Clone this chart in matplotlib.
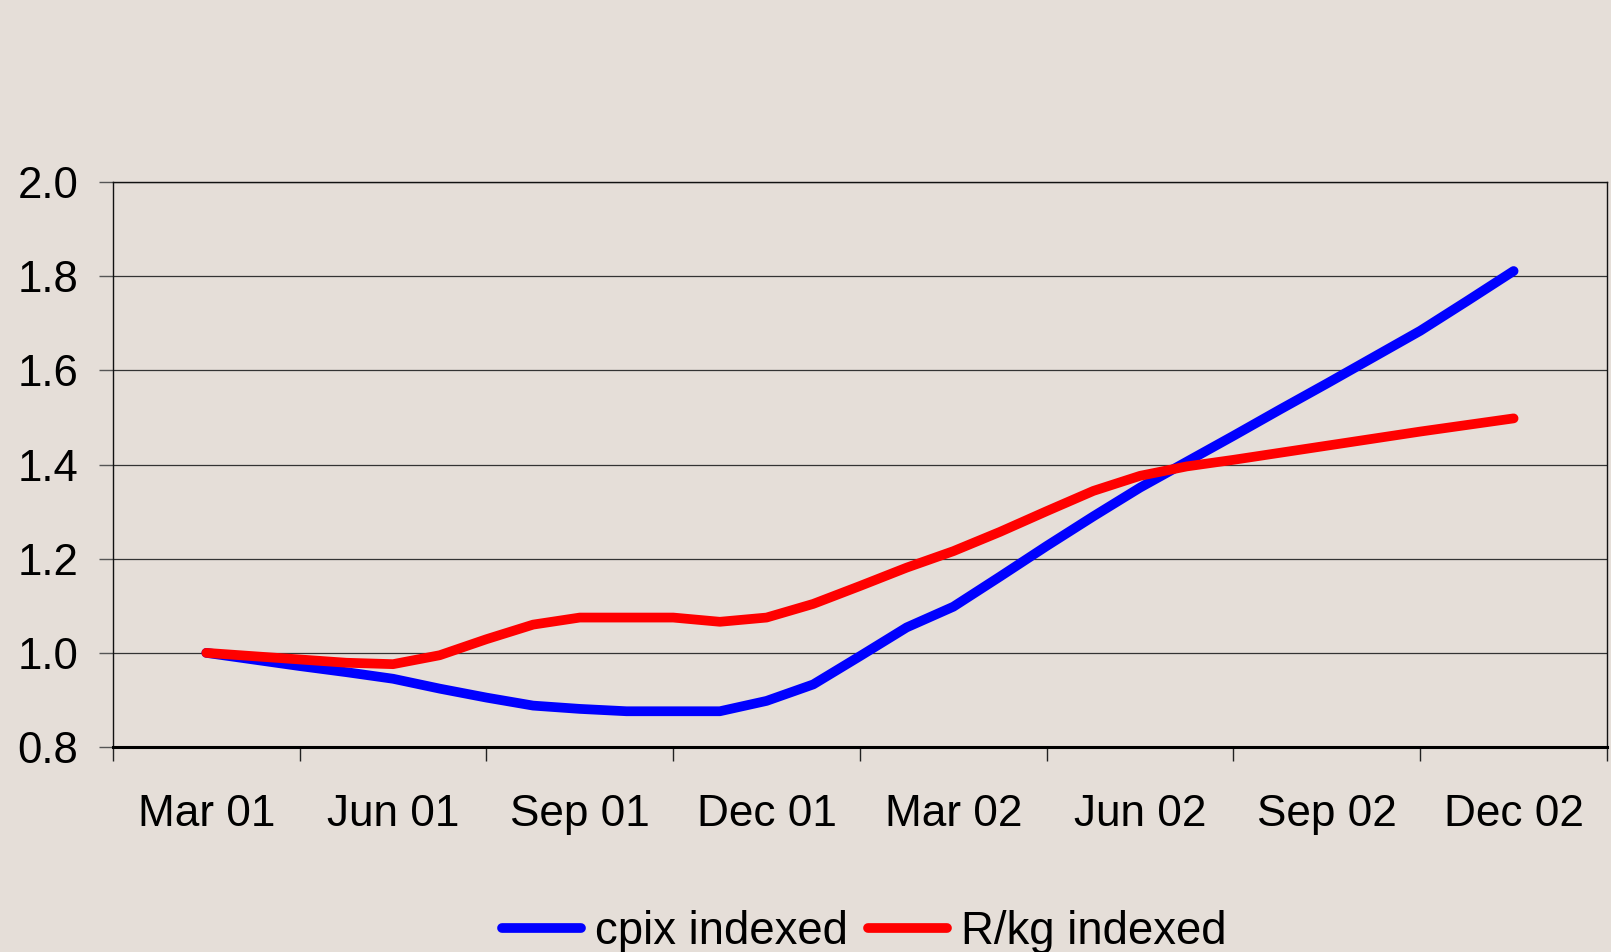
import numpy as np
import matplotlib.pyplot as plt

plt.rcParams['font.family'] = ['Liberation Sans', 'DejaVu Sans']

BG = '#E5DED8'

# quarterly labels on the category axis
quarter_labels = ["Mar 01", "Jun 01", "Sep 01", "Dec 01",
                  "Mar 02", "Jun 02", "Sep 02", "Dec 02"]

cpix_indexed = [1.000, 0.986, 0.972, 0.959, 0.945, 0.924, 0.905, 0.888,
                0.881, 0.876, 0.876, 0.876, 0.898, 0.933, 0.993, 1.054,
                1.098, 1.162, 1.227, 1.290, 1.351, 1.406, 1.461, 1.517,
                1.572, 1.628, 1.684, 1.747, 1.811]
rkg_indexed = [1.000, 0.993, 0.986, 0.979, 0.976, 0.995, 1.029, 1.060,
               1.075, 1.075, 1.075, 1.066, 1.075, 1.104, 1.142, 1.181,
               1.216, 1.257, 1.301, 1.344, 1.376, 1.396, 1.410, 1.425,
               1.440, 1.455, 1.470, 1.484, 1.498]

n_slots = 32          # category slots on the axis, 4 per quarter
x = np.arange(len(cpix_indexed)) + 2

fig = plt.figure(figsize=(16.11, 9.52), dpi=100, facecolor=BG)
ax = fig.add_axes([0.0701, 0.2153, 0.9274, 0.5935], facecolor=BG)

ax.plot(x, cpix_indexed, color='#0000FF', lw=7, solid_capstyle='round',
        solid_joinstyle='round', label='cpix indexed', zorder=3)
ax.plot(x, rkg_indexed, color='#FF0000', lw=7, solid_capstyle='round',
        solid_joinstyle='round', label='R/kg indexed', zorder=3)

ax.set_xlim(0, n_slots)
ax.set_ylim(0.8, 2.0)

# y axis
ax.set_yticks(np.arange(0.8, 2.01, 0.2))
ax.set_yticklabels([f"{v:.1f}" for v in np.arange(0.8, 2.01, 0.2)])
ax.tick_params(axis='y', direction='out', length=10, width=1.0,
               color='#555555', labelsize=31.5, pad=15)
ax.yaxis.grid(True, color='#333333', lw=0.9)
ax.set_axisbelow(True)

# x axis: tick marks between quarters, labels centred in each quarter
ax.set_xticks(np.arange(0, n_slots + 1, 4))
ax.set_xticklabels([])
ax.set_xticks(np.arange(2, n_slots, 4), minor=True)
ax.set_xticklabels(quarter_labels, minor=True)
ax.tick_params(axis='x', which='major', direction='out', length=10,
               width=1.0, color='#222222')
ax.tick_params(axis='x', which='minor', length=0, labelsize=31.8, pad=34)

for side in ['left', 'right', 'top']:
    ax.spines[side].set_color('#111111')
    ax.spines[side].set_linewidth(1.0)
ax.spines['bottom'].set_color('#000000')
ax.spines['bottom'].set_linewidth(2.2)

fig.legend(loc='center', bbox_to_anchor=(0.5365, 0.021), ncol=2,
           frameon=False, fontsize=32.8, handlelength=1.73,
           handletextpad=0.3, columnspacing=0.45, borderpad=0)

fig.savefig('out.png', dpi=100, facecolor=BG)
